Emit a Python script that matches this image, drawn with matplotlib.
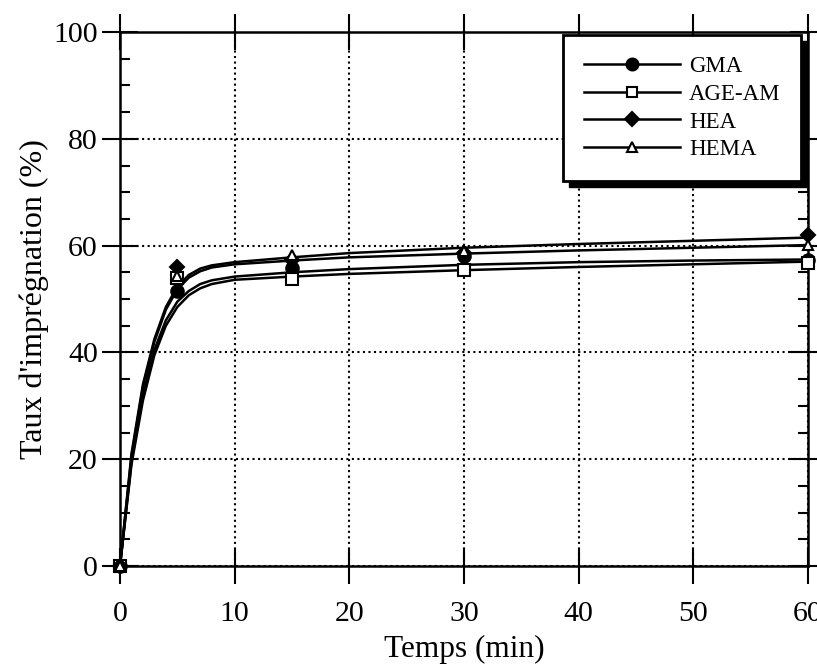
import matplotlib
matplotlib.use("Agg")
import matplotlib.pyplot as plt
from matplotlib.lines import Line2D
from matplotlib.patches import Rectangle

plt.rcParams['font.family'] = ['Liberation Serif', 'DejaVu Serif']

# measured points
t_pts = [0, 5, 15, 30, 60]
gma = [0, 51.5, 55.8, 58.0, 57.3]
age_am = [0, 54.0, 53.8, 55.4, 56.8]
hea = [0, 56.0, 57.3, 58.6, 62.0]
hema = [0, 54.3, 58.3, 59.0, 60.1]

# fitted curves
t_fit = [0, 1, 2, 3, 4, 5, 6, 7, 8, 10, 15, 20, 30, 40, 50, 60]
hea_fit = [0, 21, 34, 42.5, 48.5, 52.3, 54.5, 55.7, 56.3, 56.9, 57.8, 58.6, 59.6, 60.3, 60.9, 61.5]
hema_fit = [0, 20.5, 33.5, 42, 48, 51.8, 54, 55.2, 55.9, 56.5, 57.2, 57.8, 58.5, 59.1, 59.6, 60.1]
gma_fit = [0, 19.5, 32, 40.5, 46, 49.5, 51.5, 52.8, 53.5, 54.2, 55.0, 55.6, 56.4, 56.9, 57.2, 57.4]
age_fit = [0, 19, 31, 39.5, 45, 48.5, 50.7, 52, 52.8, 53.6, 54.2, 54.7, 55.4, 56.0, 56.5, 57.0]

names = ['GMA', 'AGE-AM', 'HEA', 'HEMA']
markers = ['o', 's', 'D', '^']
mfaces = ['black', 'white', 'black', 'white']
msizes = [9, 8, 7, 7]
pts = [gma, age_am, hea, hema]
fits = [gma_fit, age_fit, hea_fit, hema_fit]

fig = plt.figure(figsize=(8.17, 6.65), dpi=100)
ax = fig.add_axes([120/817, 1-566/665, (808-120)/817, (566-32)/665])

for y_fit in fits:
    ax.plot(t_fit, y_fit, color='black', lw=1.8, zorder=3)
for y, m, fc, ms in zip(pts, markers, mfaces, msizes):
    ax.plot(t_pts, y, ls='none', marker=m, mfc=fc, mec='black', mew=1.5,
            ms=ms, clip_on=False, zorder=4)

ax.set_xlim(0, 60)
ax.set_ylim(0, 100)
ax.set_xticks([0, 10, 20, 30, 40, 50, 60])
ax.set_yticks([0, 20, 40, 60, 80, 100])
ax.set_yticks(range(5, 100, 5), minor=True)
ax.tick_params(which='major', direction='inout', length=26, width=1.5,
               top=True, right=True, labelsize=21.5, colors='black')
ax.tick_params(axis='x', which='major', pad=12)
ax.tick_params(axis='y', which='major', pad=3)
ax.tick_params(axis='y', which='minor', direction='in', length=7, width=1.5,
               left=True, right=True)
ax.grid(True, which='major', color='black', ls=':', lw=1.5)
for s in ax.spines.values():
    s.set_linewidth(1.8)

ax.set_xlabel('Temps (min)', fontsize=22.5, labelpad=6)
ax.set_ylabel("Taux d'imprégnation (%)", fontsize=23, labelpad=3)

handles = [Line2D([], [], color='black', lw=1.8, marker=m, mfc=fc, mec='black',
                  mew=1.5, ms=ms * 0.95)
           for m, fc, ms in zip(markers, mfaces, msizes)]
leg = ax.legend(handles, names, loc='upper left',
                bbox_to_anchor=(563/817, 1-35/665), bbox_transform=fig.transFigure,
                borderaxespad=0, fontsize=16.5, handlelength=4.2, handletextpad=0.4,
                labelspacing=0.3, borderpad=0.9, frameon=True, fancybox=False,
                edgecolor='black', framealpha=1, markerfirst=True)
leg.get_frame().set_linewidth(2)
leg.set_zorder(10)

# black drop shadow behind the legend box
fig.canvas.draw()
bb = leg.get_window_extent()
shadow = Rectangle((bb.x0 + 6, bb.y0 - 6), bb.width, bb.height,
                   transform=None, facecolor='black', edgecolor='black',
                   zorder=9, clip_on=False)
ax.add_artist(shadow)

fig.savefig('out.png', dpi=100)
